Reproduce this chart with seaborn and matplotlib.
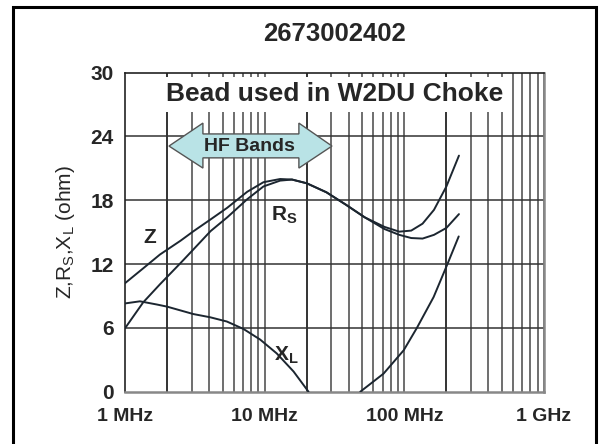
import seaborn as sns
import matplotlib.pyplot as plt
from matplotlib.patches import Rectangle, Polygon

sns.set_theme(style="white")
plt.rcParams['font.family'] = ['Liberation Sans', 'DejaVu Sans']
plt.rcParams['mathtext.default'] = 'regular'

# data (frequency in MHz, impedance in ohm)
title = "2673002402"
note = "Bead used in W2DU Choke"
band_text = "HF Bands"

freq = [1, 1.35, 1.78, 2.5, 3.1, 4.1, 5.4, 7.5, 9.8, 12.9, 15.7, 20, 27.7,
        38, 52, 72, 92, 112, 135, 163, 200, 246]
z_ohm = [10.2, 11.6, 12.9, 14.2, 15.1, 16.2, 17.3, 18.8, 19.7, 20.0, 19.95,
         19.6, 18.75, 17.6, 16.4, 15.5, 15.05, 15.15, 15.8, 17.1, 19.3, 22.2]
rs_ohm = [5.96, 8.4, 10.1, 12.1, 13.4, 15.1, 16.4, 18.1, 19.3, 19.85, 19.95,
          19.6, 18.75, 17.6, 16.4, 15.3, 14.75, 14.45, 14.4, 14.75, 15.4, 16.7]

freq_xl_low = [1, 1.28, 1.69, 2, 3.09, 4.07, 5.36, 7.05, 9.29, 12.2, 16.1, 20.6]
xl_low = [8.3, 8.5, 8.2, 8.0, 7.3, 7.0, 6.6, 5.9, 4.9, 3.6, 1.9, 0]
freq_xl_high = [48.4, 71, 99, 123, 162, 202, 245]
xl_high = [0, 1.7, 3.9, 6.0, 8.9, 11.9, 14.6]

x_ticks = [1, 10, 100, 1000]
x_labels = ["1 MHz", "10 MHz", "100 MHz", "1 GHz"]
y_ticks = [0, 6, 12, 18, 24, 30]
dark_lines = [2, 20, 200]

fig = plt.figure(figsize=(6.02, 4.44), dpi=100)
ax = fig.add_axes([0.2076, 0.1178, 0.6961, 0.7185])
ax.set_xscale('log')
ax.set_xlim(1, 1000)
ax.set_ylim(0, 30)

# grid
for dec in [1, 10, 100]:
    for m in range(2, 11):
        f = m * dec
        if f in dark_lines:
            ax.axvline(f, color='#111111', lw=1.2, zorder=1)
        else:
            ax.axvline(f, color='#6e6e6e', lw=1.4, zorder=1)
for y in y_ticks[1:-1]:
    ax.axhline(y, color='#333333', lw=1.1, zorder=1)

line_kw = dict(color='#1c2630', linewidth=1.4, ax=ax, zorder=3)
sns.lineplot(x=freq, y=z_ohm, **line_kw)
sns.lineplot(x=freq, y=rs_ohm, **line_kw)
sns.lineplot(x=freq_xl_low, y=xl_low, **line_kw)
sns.lineplot(x=freq_xl_high, y=xl_high, **line_kw)

# white box with note
ax.add_patch(Rectangle((0.079, 0.878), 0.84, 0.108, transform=ax.transAxes,
                       facecolor='white', edgecolor='none', zorder=2))
ax.text(0.5, 0.932, note, transform=ax.transAxes, ha='center', va='center',
        fontsize=19, fontweight='bold', zorder=4)

# HF band arrow
arrow_pts = [(0.105, 0.770), (0.186, 0.842), (0.186, 0.808), (0.415, 0.808),
             (0.415, 0.842), (0.494, 0.770), (0.415, 0.701), (0.415, 0.733),
             (0.186, 0.733), (0.186, 0.701)]
ax.add_patch(Polygon(arrow_pts, closed=True, transform=ax.transAxes,
                     facecolor='#b9e3e6', edgecolor='#555555', lw=1, zorder=4))
ax.text(0.298, 0.770, band_text, transform=ax.transAxes, ha='center',
        va='center', fontsize=14, fontweight='bold', zorder=5)

# curve labels
ax.text(0.06, 0.482, "Z", transform=ax.transAxes, ha='center', va='center',
        fontsize=15, fontweight='bold', zorder=5)
ax.text(0.381, 0.554, r"R$_{S}$", transform=ax.transAxes, ha='center',
        va='center', fontsize=15, fontweight='bold', zorder=5)
ax.text(0.385, 0.115, r"X$_{L}$", transform=ax.transAxes, ha='center',
        va='center', fontsize=15, fontweight='bold', zorder=5)

ax.set_xticks(x_ticks)
ax.set_xticklabels(x_labels, fontsize=14, fontweight='bold')
ax.set_xticks([], minor=True)
ax.set_yticks(y_ticks)
ax.set_yticklabels([str(v) for v in y_ticks], fontsize=15, fontweight='bold')
ax.tick_params(axis='x', length=0, pad=12)
ax.tick_params(axis='y', length=0, pad=8)

ax.set_ylabel(r"Z,R$_{S}$,X$_{L}$ (ohm)", fontsize=15)
ax.yaxis.set_label_coords(-0.115, 0.5)

for side in ['left', 'top']:
    ax.spines[side].set_color('#222222')
    ax.spines[side].set_linewidth(1.2)
for side in ['right', 'bottom']:
    ax.spines[side].set_color('#888888')
    ax.spines[side].set_linewidth(1.8)

fig.text(334 / 602, 1 - 34 / 444, title, ha='center', va='center',
         fontsize=18.5, fontweight='bold')

fig.patches.append(Rectangle((13 / 602, -0.1), 583 / 602, 1 - 7 / 444 + 0.1,
                             transform=fig.transFigure, fill=False,
                             edgecolor='black', lw=2.2))

fig.savefig("out.png", dpi=100)
